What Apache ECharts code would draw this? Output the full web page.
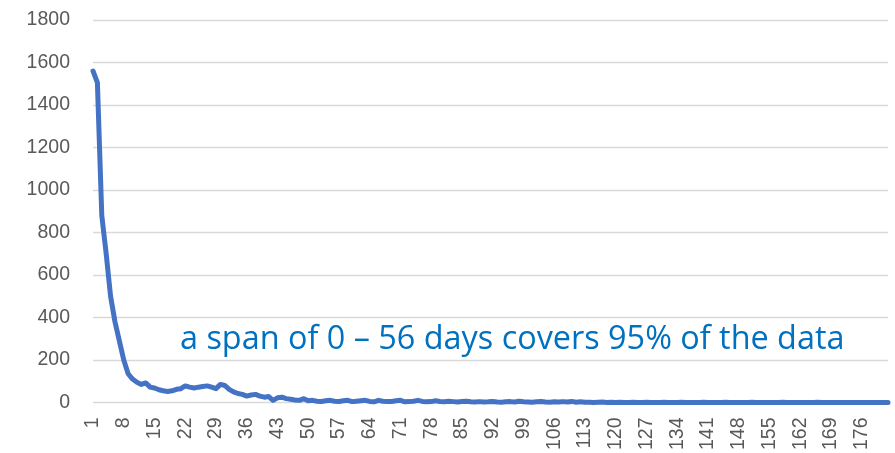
<!DOCTYPE html>
<html>
<head>
<meta charset="utf-8">
<script src="https://cdn.jsdelivr.net/npm/echarts@6/dist/echarts.min.js"></script>
<style>
html,body{margin:0;padding:0;background:#fff;}
#chart{width:895px;height:453px;}
</style>
</head>
<body>
<div id="chart"></div>
<script>
// Day numbers 1..182
const days = [];
for (let d = 1; d <= 182; d++) days.push(String(d));

// Counts per day
const counts = [
  1560, 1505, 880, 700, 500, 380, 290, 200, 135, 110,
  95, 85, 92, 72, 68, 60, 55, 52, 55, 62,
  65, 78, 72, 68, 72, 75, 78, 72, 65, 85,
  80, 62, 50, 42, 38, 30, 35, 38, 30, 25,
  28, 10, 22, 25, 18, 15, 12, 10, 18, 8,
  10, 6, 5, 8, 10, 6, 5, 8, 10, 4,
  6, 8, 10, 5, 3, 10, 6, 4, 5, 8,
  10, 3, 4, 6, 10, 5, 3, 4, 8, 5,
  3, 6, 4, 2, 5, 6, 3, 2, 4, 2,
  3, 5, 2, 1, 3, 4, 2, 6, 3, 2,
  1, 3, 5, 2, 1, 3, 2, 4, 2, 5,
  1, 3, 1, 1, 0, 1, 2, 0, 1, 0,
  1, 0, 0, 1, 0, 0, 1, 0, 0, 0,
  1, 0, 0, 0, 1, 0, 0, 0, 0, 1,
  0, 0, 0, 0, 1, 0, 0, 0, 0, 0,
  1, 0, 0, 0, 0, 0, 0, 1, 0, 0,
  0, 0, 0, 0, 0, 1, 0, 0, 0, 0,
  0, 0, 0, 0, 0, 0, 0, 0, 0, 0,
  0, 0
];

const yTicks = { min: 0, max: 1800, interval: 200 };
const annotation = 'a span of 0 \u2013 56 days covers 95% of the data';

const chart = echarts.init(document.getElementById('chart'), null, { renderer: 'canvas' });
chart.setOption({
  animation: false,
  backgroundColor: '#ffffff',
  grid: { left: 93, right: 7, top: 20, bottom: 48, containLabel: false },
  xAxis: {
    type: 'category',
    data: days,
    boundaryGap: false,
    axisLine: { show: false },
    axisTick: { show: false },
    axisLabel: {
      interval: 6,
      rotate: 90,
      margin: 15,
      color: '#595959',
      fontSize: 19.5,
      fontFamily: 'Liberation Sans'
    },
    splitLine: { show: false }
  },
  yAxis: {
    type: 'value',
    min: yTicks.min,
    max: yTicks.max,
    interval: yTicks.interval,
    axisLine: { show: false },
    axisTick: { show: false },
    axisLabel: {
      margin: 23,
      color: '#595959',
      fontSize: 19.5,
      fontFamily: 'Liberation Sans',
      formatter: function (v) { return String(v); }
    },
    splitLine: { lineStyle: { color: '#d9d9d9', width: 1.3 } }
  },
  series: [{
    type: 'line',
    data: counts,
    symbol: 'none',
    smooth: false,
    lineStyle: { color: '#4472C4', width: 5, cap: 'round', join: 'round' }
  }],
  graphic: [{
    type: 'text',
    left: 180,
    top: 324,
    style: {
      text: annotation,
      fill: '#0070C0',
      font: '32.4px "Open Sans"'
    }
  }]
});
</script>
</body>
</html>
